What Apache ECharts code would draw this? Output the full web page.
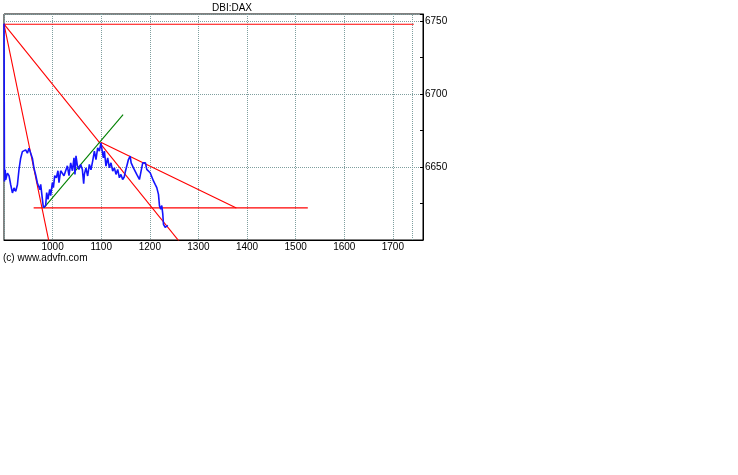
<!DOCTYPE html>
<html>
<head>
<meta charset="UTF-8">
<title>DBI:DAX</title>
<script src="https://cdn.jsdelivr.net/npm/echarts@6/dist/echarts.min.js"></script>
<style>
  html, body { margin: 0; padding: 0; background: #fff; }
  #main { width: 738px; height: 475px; }
</style>
</head>
<body>
<div id="main"></div>
<script>
// price (bar index, value)
var priceX = [900, 901, 902.5, 903.5, 907, 910.3, 913.8, 917.3, 920.6, 924.1, 927.6, 930.8, 934.3,
  937.8, 941.1, 944.6, 948.1, 951.4, 954.9, 958.4, 961.7, 965.2, 968.7, 971.4, 974, 975.5, 978.6,
  981, 985.7, 987.8, 990.5, 994, 996, 999.5, 1001.6, 1004.3, 1007.8, 1011, 1013.1, 1016.6, 1020.1,
  1023.4, 1026.9, 1030.4, 1033.7, 1037.2, 1040.7, 1044, 1046, 1048.1, 1051, 1054.2, 1057.7, 1061.2,
  1063.9, 1065.3, 1068.6, 1072.1, 1075.6, 1078.9, 1082.4, 1085.9, 1089.2, 1092.7, 1096.2, 1099.5,
  1101.6, 1104.4, 1106.5, 1109.8, 1113.3, 1116.8, 1120.1, 1123.6, 1127.1, 1130.4, 1133.9, 1137.4,
  1140.6, 1144.1, 1147.3, 1149.8, 1153.3, 1156, 1159.5, 1161.6, 1166.3, 1169.8, 1173.1, 1176,
  1178.6, 1181.3, 1185.4, 1188.3, 1191, 1193.7, 1197.2, 1200.7, 1204, 1207.5, 1211, 1214.3, 1217.8,
  1219.9, 1222.5, 1224.6, 1226.7, 1228.1, 1231.6, 1234.9, 1237];
var priceY = [6748.4, 6640.2, 6648.2, 6641.3, 6645.9, 6644.1, 6637.9, 6632.3, 6635.7, 6633.4, 6637.9, 6648.2, 6656.1,
  6660.6, 6659.8, 6661.8, 6659.5, 6663, 6659.5, 6656.1, 6649.3, 6644.7, 6639.1, 6637.9, 6634.5, 6638.1, 6629.1,
  6622.3, 6623.6, 6632.5, 6627.9, 6634.7, 6630.4, 6639.3, 6635.9, 6644.1, 6642.7, 6647.5, 6639.3, 6647.5, 6648.4,
  6644.1, 6647.5, 6650.9, 6644.1, 6652.9, 6647.5, 6656.3, 6645, 6657.7, 6650.9, 6648.4, 6651.8, 6648.4,
  6638.6, 6645, 6649.5, 6643.9, 6651.8, 6648.2, 6654.1, 6660.9, 6655.2, 6663.2, 6660.9, 6666.6,
  6662, 6656.3, 6660.9, 6650.7, 6656.3, 6649.5, 6652.9, 6647.3, 6649.5, 6645, 6648.4, 6642.7,
  6645, 6641.5, 6643.2, 6647.1, 6651.6, 6655.2, 6657.5, 6652.9, 6649.5, 6648.4, 6645, 6644.1,
  6641.5, 6646.1, 6652.9, 6651.8, 6652.9, 6648.4, 6647.5, 6646.1, 6643.4, 6640.5, 6638.1, 6635.9, 6631.3,
  6623.4, 6621.1, 6623.6, 6617.7, 6610.8, 6608.6, 6609.3, 6610];

// trend lines: [x1, y1, x2, y2]
var redLines = [
  [900, 6748, 1743, 6748],
  [900, 6748, 993, 6598],
  [900, 6748, 1263, 6598],
  [1099, 6667, 1378, 6622],
  [961, 6622, 1525, 6622]
];
var greenLines = [
  [982, 6622, 1145, 6686]
];
var markerX = [1740];

var xTicks = { min: 900, max: 1762, step: 100 };
var yTicks = { min: 6600, max: 6755, step: 50 };

var fontFam = 'Liberation Sans, Arial, sans-serif';
var chart = echarts.init(document.getElementById('main'));

function lineSeries(seg, color) {
  return {
    type: 'line',
    data: [[seg[0], seg[1]], [seg[2], seg[3]]],
    symbol: 'none',
    clip: true,
    silent: true,
    lineStyle: { color: color, width: 1.1 },
    animation: false
  };
}

var series = [];
redLines.forEach(function (s) { series.push(lineSeries(s, '#ff0000')); });
greenLines.forEach(function (s) { series.push(lineSeries(s, '#008000')); });

var pricePts = priceX.map(function (x, i) { return [x, priceY[i]]; });
series.push({
  type: 'line',
  data: pricePts,
  symbol: 'none',
  clip: true,
  lineStyle: { color: '#1414ff', width: 1.6 },
  z: 3,
  animation: false,
  markLine: {
    silent: true,
    symbol: 'none',
    label: { show: false },
    lineStyle: { color: '#7f9f9f', type: [1, 1], width: 1 },
    data: markerX.map(function (v) { return { xAxis: v }; })
  }
});

var gridLine = { show: true, lineStyle: { color: '#7f9f9f', type: [1, 1], width: 1 } };
var plain = function (v) { return String(v); };

var option = {
  backgroundColor: '#fff',
  animation: false,
  title: {
    text: 'DBI:DAX',
    left: 212,
    top: 3,
    padding: 0,
    textStyle: { fontFamily: fontFam, fontSize: 10, fontWeight: 'normal', color: '#000' }
  },
  graphic: [{
    type: 'text',
    left: 3,
    top: 253,
    style: { text: '(c) www.advfn.com', font: '10px ' + fontFam, fill: '#000' }
  }],
  grid: {
    left: 4, right: 315, top: 14, bottom: 235,
    show: true, borderColor: '#000', borderWidth: 1, backgroundColor: 'transparent'
  },
  xAxis: {
    type: 'value',
    min: xTicks.min, max: xTicks.max, interval: xTicks.step,
    axisLine: { show: true, lineStyle: { color: '#000' } },
    axisTick: { show: false },
    axisLabel: {
      showMinLabel: false, showMaxLabel: false, margin: 2, formatter: plain,
      fontFamily: fontFam, fontSize: 10, color: '#000'
    },
    splitLine: gridLine
  },
  yAxis: {
    type: 'value',
    position: 'right',
    min: yTicks.min, max: yTicks.max, interval: yTicks.step,
    axisLine: { show: true, lineStyle: { color: '#000' } },
    axisTick: { show: true, inside: true, length: 3, lineStyle: { color: '#000' } },
    minorTick: { show: true, splitNumber: 2, length: 3, lineStyle: { color: '#000' } },
    axisLabel: {
      showMinLabel: false, showMaxLabel: false, margin: 2, formatter: plain,
      fontFamily: fontFam, fontSize: 10, color: '#000'
    },
    splitLine: gridLine
  },
  series: series
};
chart.setOption(option);
</script>
</body>
</html>
